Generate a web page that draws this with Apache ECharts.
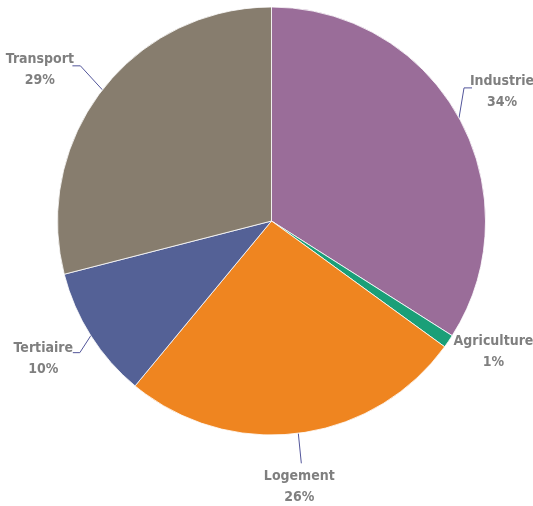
<!DOCTYPE html>
<html><head><meta charset="utf-8">
<script src="https://cdn.jsdelivr.net/npm/echarts@6/dist/echarts.min.js"></script>
<style>html,body{margin:0;padding:0;background:#fff}#c{width:533px;height:506px}</style>
</head><body><div id="c"></div>
<script>
const categories = ['Industrie', 'Agriculture', 'Logement', 'Tertiaire', 'Transport'];
const values = [34, 1, 26, 10, 29];
const colors = ['#9a6d99', '#1a9f78', '#ef8520', '#546196', '#877d6e'];

// label placement offsets relative to the slice edge point (style only)
const labelOffsets = [
  {line: [[5, -30], [13, -30]], text: [43, -26]},
  {line: null, text: [45, 11]},
  {line: [[3, 30]], text: [1, 54]},
  {line: [[-11, 17], [-18, 17]], text: [-47.5, 23]},
  {line: [[-22, -24], [-30, -24]], text: [-62.5, -20]}
];

const chart = echarts.init(document.getElementById('c'), null, {renderer: 'canvas'});
chart.setOption({
  animation: false,
  series: [{
    type: 'pie',
    center: [271.5, 221],
    radius: 214,
    startAngle: 90,
    clockwise: true,
    data: categories.map((c, i) => ({
      name: c, value: values[i], itemStyle: {color: colors[i]},
      labelLine: {show: !!labelOffsets[i].line}
    })),
    itemStyle: {borderColor: '#ffffff', borderWidth: 0.8},
    label: {
      show: true,
      position: 'outside',
      alignTo: 'none',
      overflow: 'none',
      formatter: p => p.name + '\n' + p.value + '%',
      fontFamily: '"DejaVu Sans Condensed", sans-serif',
      fontWeight: 'bold',
      fontSize: 14,
      lineHeight: 21,
      color: '#7f7f7f'
    },
    labelLine: {show: true, length: 20, length2: 8, lineStyle: {color: '#52559a', width: 1}},
    labelLayout: function (params) {
      const o = labelOffsets[params.dataIndex];
      const e = params.labelLinePoints[0];
      const res = {
        x: e[0] + o.text[0],
        y: e[1] + o.text[1],
        align: 'center',
        verticalAlign: 'middle'
      };
      if (o.line) {
        res.labelLinePoints = [[e[0], e[1]]].concat(o.line.map(d => [e[0] + d[0], e[1] + d[1]]));
      }
      return res;
    },
    emphasis: {disabled: true}
  }]
});
</script></body></html>
